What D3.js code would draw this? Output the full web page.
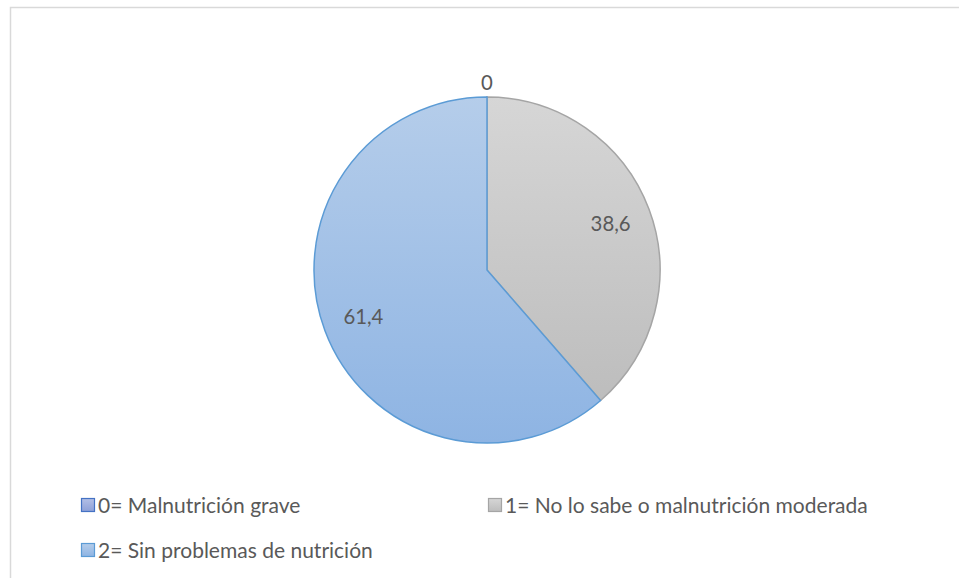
<!DOCTYPE html>
<html>
<head>
<meta charset="utf-8">
<script src="https://cdn.jsdelivr.net/npm/d3@7"></script>
<style>
  body { margin: 0; background: #fff; }
  svg { display: block; }
</style>
</head>
<body>
<svg id="chart" width="959" height="578"></svg>
<script>
// chart data
const categories = ["0= Malnutrición grave", "1= No lo sabe o malnutrición moderada", "2= Sin problemas de nutrición"];
const values = [0, 38.6, 61.4];
const valueLabels = ["0", "38,6", "61,4"];

// slice colours (gradient top, gradient bottom, outline)
const colorsTop = ["#b3bfe6", "#d6d6d6", "#b5cdea"];
const colorsBottom = ["#8ea0d8", "#bdbdbd", "#8eb4e3"];
const colorsStroke = ["#4472c4", "#a5a5a5", "#5b9bd5"];

const FONT = "Lato, 'Open Sans', sans-serif";
const TEXT_COLOR = "#595959";

// layout
const cx = 487, cy = 270, radius = 173;
const labelRadius = 132, outsideRadius = 187;
const legendCols = [81, 488], legendRows = [505, 550];

const svg = d3.select("#chart");

// chart area border
svg.append("rect")
    .attr("x", 10.5).attr("y", 7.5)
    .attr("width", 1000).attr("height", 1000)
    .attr("fill", "none")
    .attr("stroke", "#d9d9d9")
    .attr("stroke-width", 1.5);

// pick a font size so a string gets a given width
function fitFont(text, target) {
    const t = svg.append("text").style("font-family", FONT).style("font-size", "20px").text(text);
    const w = t.node().getComputedTextLength();
    t.remove();
    return 20 * target / w;
}
const legendSize = fitFont(categories[1], 363);
const labelSize = fitFont(valueLabels[1], 40);

// gradients
const defs = svg.append("defs");
categories.forEach(function (c, i) {
    const g = defs.append("linearGradient")
        .attr("id", "grad" + i)
        .attr("x1", 0).attr("y1", 0).attr("x2", 0).attr("y2", 1);
    g.append("stop").attr("offset", "0%").attr("stop-color", colorsTop[i]);
    g.append("stop").attr("offset", "100%").attr("stop-color", colorsBottom[i]);
});

const pie = d3.pie().sort(null).value(function (d) { return d; });
const arcs = pie(values);

const arc = d3.arc().innerRadius(0).outerRadius(radius);
const labelArc = d3.arc().innerRadius(labelRadius).outerRadius(labelRadius);
const outsideArc = d3.arc().innerRadius(outsideRadius).outerRadius(outsideRadius);

const g = svg.append("g").attr("transform", "translate(" + cx + "," + cy + ")");

g.selectAll("path.slice")
    .data(arcs)
    .enter().append("path")
    .attr("class", "slice")
    .attr("d", arc)
    .attr("fill", function (d, i) { return "url(#grad" + i + ")"; })
    .attr("stroke", function (d, i) { return colorsStroke[i]; })
    .attr("stroke-width", 1.5)
    .attr("stroke-linejoin", "round");

// data labels
g.selectAll("text.label")
    .data(arcs)
    .enter().append("text")
    .attr("class", "label")
    .attr("transform", function (d) {
        const p = d.value === 0 ? outsideArc.centroid(d) : labelArc.centroid(d);
        return "translate(" + p[0] + "," + p[1] + ")";
    })
    .attr("text-anchor", "middle")
    .attr("dy", "0.36em")
    .style("font-family", FONT)
    .style("font-size", labelSize + "px")
    .attr("fill", TEXT_COLOR)
    .text(function (d, i) { return valueLabels[i]; });

// legend
const legend = svg.selectAll("g.legend")
    .data(categories)
    .enter().append("g")
    .attr("class", "legend")
    .attr("transform", function (d, i) {
        return "translate(" + legendCols[i % 2] + "," + legendRows[Math.floor(i / 2)] + ")";
    });

legend.append("rect")
    .attr("x", 0.5).attr("y", -6.5)
    .attr("width", 13).attr("height", 13)
    .attr("fill", function (d, i) { return "url(#grad" + i + ")"; })
    .attr("stroke", function (d, i) { return colorsStroke[i]; })
    .attr("stroke-width", 1.2);

legend.append("text")
    .attr("x", 17)
    .attr("dy", "0.36em")
    .style("font-family", FONT)
    .style("font-size", legendSize + "px")
    .attr("fill", TEXT_COLOR)
    .text(function (d) { return d; });
</script>
</body>
</html>
